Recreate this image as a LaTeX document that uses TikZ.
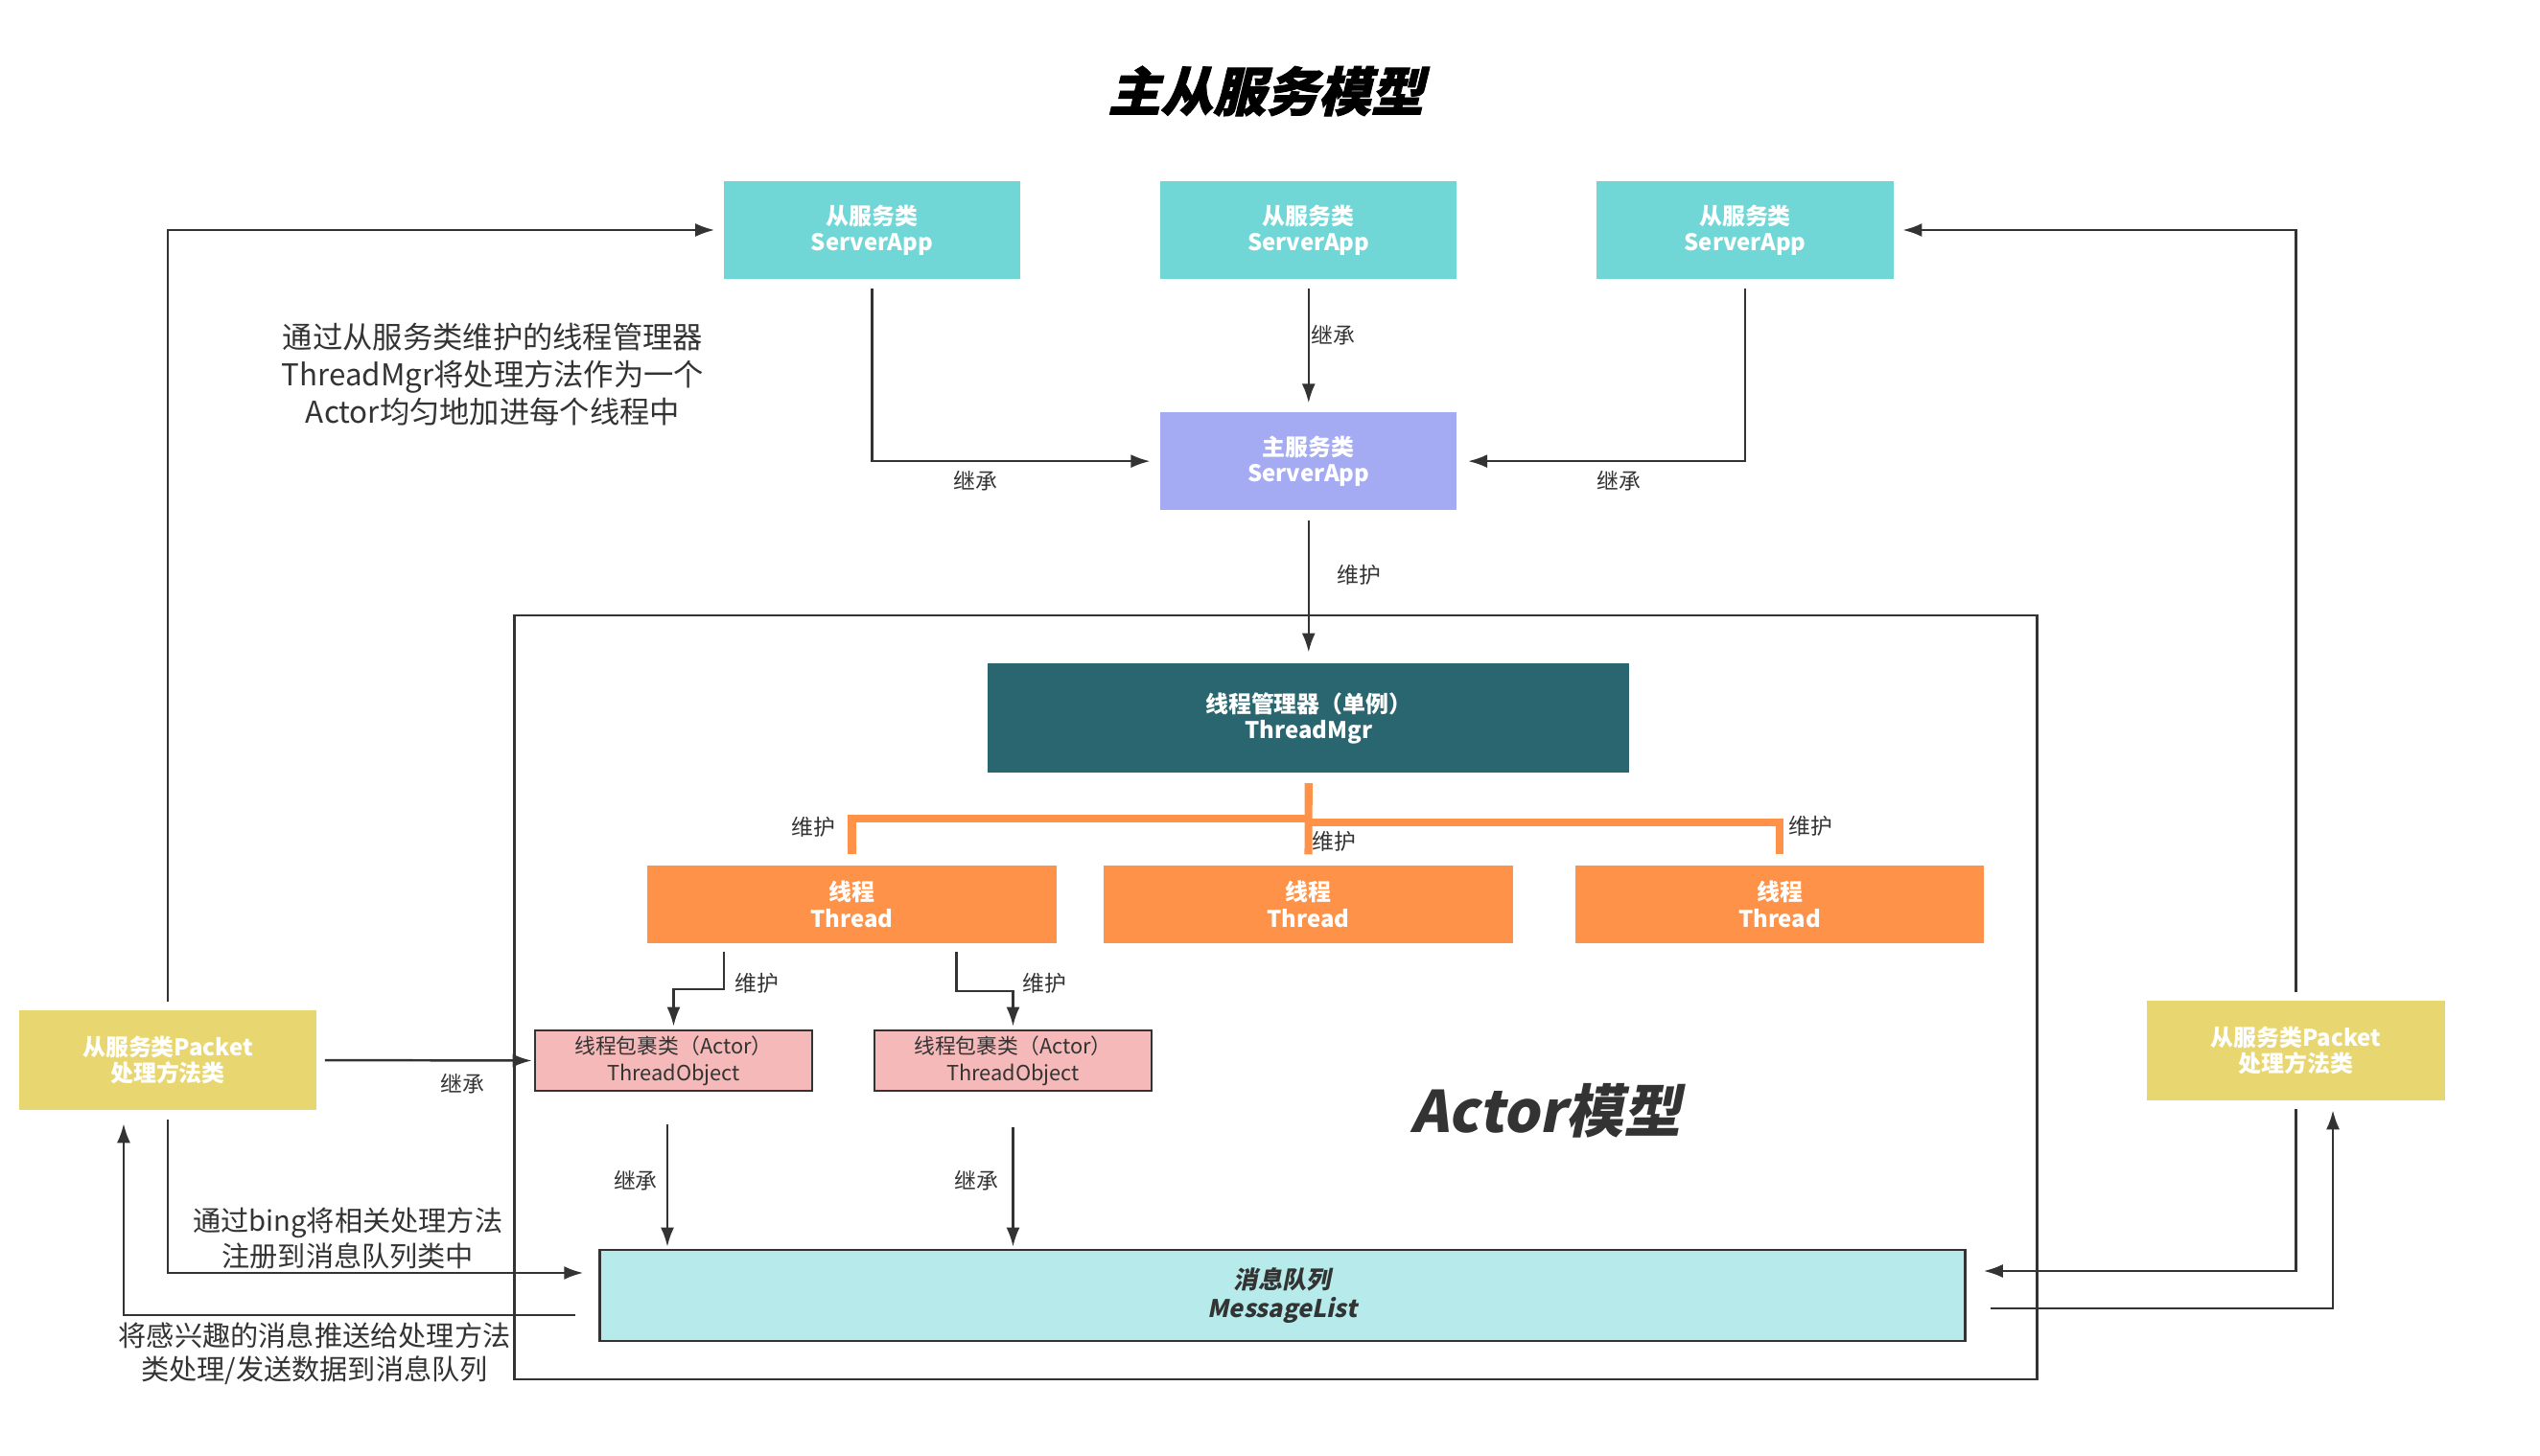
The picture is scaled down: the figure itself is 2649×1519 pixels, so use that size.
\documentclass[tikz,border=0pt]{standalone}
\usepackage{fontspec}
\setmainfont{Noto Sans CJK SC}
\newfontfamily\slantfont{Noto Sans CJK SC}[FakeSlant=0.2]
\newfontfamily\titlefont{Noto Sans CJK SC}[FakeSlant=0.24, FakeBold=1.5]
\usetikzlibrary{arrows.meta}

\definecolor{slavecol}{HTML}{70D6D6}
\definecolor{mastercol}{HTML}{A4ABF2}
\definecolor{mgrcol}{HTML}{2A6670}
\definecolor{threadcol}{HTML}{FF9249}
\definecolor{actorcol}{HTML}{F4B9B8}
\definecolor{packetcol}{HTML}{E8D670}
\definecolor{queuecol}{HTML}{B7EBEB}
\definecolor{inkcol}{HTML}{333333}

\begin{document}
\begin{tikzpicture}[x=0.01cm, y=-0.01cm, node distance = 4.55cm,
        box/.style={inner sep=0pt, align=center, text=white,
        font=\fontsize{6.8}{7.8}\selectfont\bfseries},
        slave/.style={box, fill=slavecol, minimum width=3.09cm, minimum height=1.02cm},
        master/.style={box, fill=mastercol, minimum width=3.09cm, minimum height=1.02cm},
        mgr/.style={box, fill=mgrcol, minimum width=6.69cm, minimum height=1.14cm},
        thread/.style={box, fill=threadcol, minimum width=4.26cm, minimum height=0.81cm},
        packet/.style={box, fill=packetcol, minimum width=3.10cm, minimum height=1.03cm},
        actor/.style={inner sep=0pt, align=center, text=inkcol, fill=actorcol,
        draw=inkcol, line width=0.75pt, minimum width=2.89cm, minimum height=0.63cm,
        font=\fontsize{6.2}{8}\selectfont},
        queue/.style={inner sep=0pt, align=center, text=inkcol, fill=queuecol,
        draw=inkcol, line width=0.75pt, minimum width=14.23cm, minimum height=0.95cm,
        font=\slantfont\bfseries\fontsize{7.2}{8.4}\selectfont},
        frame/.style={draw=inkcol, line width=0.7pt, inner sep=0pt},
        arr/.style={draw=inkcol, line width=0.7pt, -{Latex[length=2mm, width=1.4mm]}},
        branch/.style={draw=threadcol, line width=2.3pt},
        lbl/.style={text=inkcol, inner sep=0pt, font=\fontsize{6.5}{7.5}\selectfont},
        note/.style={text=inkcol, inner sep=0pt, align=center}]

        \useasboundingbox (0,0) rectangle (2649,1519);

        \node [font=\titlefont\bfseries\fontsize{15.6}{18}\selectfont] (title)
        at (1320,95) {主从服务模型};

        \node [slave] (S1) at (909.5,240) {从服务类\\ServerApp};
        \node [slave, right of = S1] (S2) {从服务类\\ServerApp};
        \node [slave, right of = S2] (S3) {从服务类\\ServerApp};
        \node [master, below of = S2, node distance = 2.41cm] (M) {主服务类\\ServerApp};

        \node [frame, minimum width=15.87cm, minimum height=7.97cm] (AM)
        at (1330.5,1040.5) {};
        \node [mgr, below of = M, node distance = 2.68cm] (TM)
        {线程管理器（单例）\\ThreadMgr};

        \node [thread] (T1) at (888.5,943.5) {线程\\Thread};
        \node [thread] (T2) at (1364.5,943.5) {线程\\Thread};
        \node [thread] (T3) at (1856,943.5) {线程\\Thread};

        \node [actor] (O1) at (702.5,1106.5) {线程包裹类（Actor）\\ThreadObject};
        \node [actor] (O2) at (1056.5,1106.5) {线程包裹类（Actor）\\ThreadObject};

        \node [queue] (ML) at (1337.5,1351.5) {消息队列\\MessageList};

        \node [packet] (P1) at (175,1106) {从服务类Packet\\处理方法类};
        \node [packet] (P2) at (2394.5,1096) {从服务类Packet\\处理方法类};

        \node [text=inkcol, font=\slantfont\bfseries\fontsize{17}{20}\selectfont] (AT)
        at (1612,1159) {Actor模型};

        \node [note, font=\fontsize{8.9}{11.1}\selectfont] (N1) at (514,391)
        {通过从服务类维护的线程管理器\\ThreadMgr将处理方法作为一个\\Actor均匀地加进每个线程中};

        \draw [arr, shorten <=0.09cm, shorten >=0.1cm] (S1.south) |- (M.west)
        node [lbl, pos=0.68, yshift=-0.21cm] {继承};
        \draw [arr, shorten <=0.09cm, shorten >=0.09cm] (S2.south) -- (M.north)
        node [lbl, pos=0.42, xshift=0.26cm] {继承};
        \draw [arr, shorten <=0.09cm, shorten >=0.11cm] (S3.south) |- (M.east)
        node [lbl, pos=0.72, yshift=-0.21cm] {继承};
        \draw [arr, shorten <=0.1cm, shorten >=0.11cm] (M.south) -- (TM.north)
        node [lbl, pos=0.42, xshift=0.53cm] {维护};

        \draw [branch] ([yshift=0.11cm]T1.north) |- (TM.south |- 0,854)
        node [lbl, pos=0.38, xshift=-0.4cm] {维护};
        \draw [branch] ([yshift=0.11cm]T3.north) |- (TM.south |- 0,858)
        node [lbl, pos=0.44, xshift=0.32cm] {维护};
        \draw [branch] ([yshift=-0.1cm]TM.south) -- ([yshift=0.11cm]T2.north)
        node [lbl, pos=0.82, xshift=0.27cm] {维护};

        \draw [arr] ([xshift=0.805cm, yshift=-0.08cm]T1.south west) -- ++(0,39)
        node [lbl, midway, xshift=0.34cm, yshift=-0.135cm] {维护}
        -| ([yshift=0.03cm]O1.north);
        \draw [arr] ([xshift=3.225cm, yshift=-0.08cm]T1.south west) -- ++(0,41)
        node [lbl, midway, xshift=0.92cm, yshift=-0.125cm] {维护}
        -| ([yshift=0.03cm]O2.north);

        \draw [arr, shorten <=0.08cm, shorten >=0.02cm] (P1.east) -- (O1.west)
        node [lbl, pos=0.67, yshift=-0.24cm] {继承};
        \draw [arr, shorten <=0.09cm, shorten >=0.09cm] (P1.north) |- (S1.west);
        \draw [arr, shorten <=0.09cm, shorten >=0.09cm] (P2.north) |- (S3.east);

        \draw [arr, shorten <=0.34cm, shorten >=0.02cm] ([xshift=-0.065cm]O1.south)
        -- ([xshift=-0.065cm]O1.south |- ML.north)
        node [lbl, pos=0.566, xshift=-0.33cm] {继承};
        \draw [arr, shorten <=0.37cm, shorten >=0.02cm] (O2.south)
        -- (O2.south |- ML.north)
        node [lbl, pos=0.566, xshift=-0.38cm] {继承};

        \draw [arr, shorten <=0.1cm, shorten >=0.16cm] (P1.south)
        |- ([yshift=0.235cm]ML.west)
        node [note, font=\fontsize{8.3}{10.7}\selectfont, pos=0.709, yshift=0.36cm]
        {通过bing将相关处理方法\\注册到消息队列类中};
        \draw [arr, shorten <=0.24cm, shorten >=0.14cm] ([yshift=-0.205cm]ML.west)
        -| ([xshift=-0.46cm]P1.south)
        node [note, font=\fontsize{8.3}{10}\selectfont, pos=0.299, yshift=-0.4cm]
        {将感兴趣的消息推送给处理方法\\类处理/发送数据到消息队列};

        \draw [arr, shorten <=0.09cm, shorten >=0.18cm] (P2.south)
        |- ([yshift=0.255cm]ML.east);
        \draw [arr, shorten <=0.25cm, shorten >=0.1cm] ([yshift=-0.135cm]ML.east)
        -| ([xshift=0.385cm]P2.south);
    \end{tikzpicture}
\end{document}
